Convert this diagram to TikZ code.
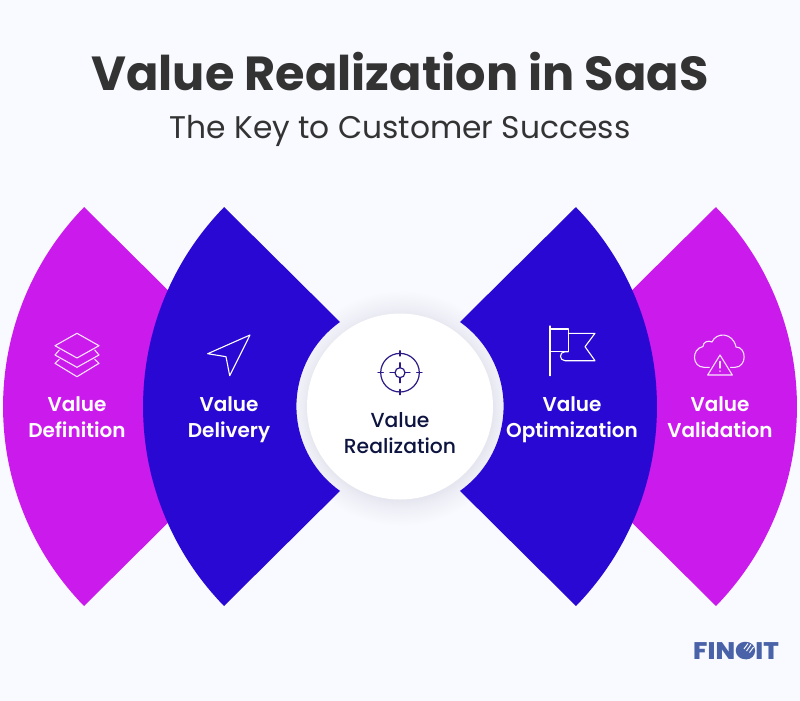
\documentclass[tikz,border=0pt]{standalone}
\usepackage{fontspec}
\setmainfont{Poppins}
\newfontfamily\semib{Poppins SemiBold}
\newfontfamily\medi{Poppins Medium}
\newfontfamily\xbold{Poppins ExtraBold}
\definecolor{bgc}{HTML}{F9FAFF}
\definecolor{pinkc}{HTML}{CB1AEC}
\definecolor{bluec}{HTML}{2A08D3}
\definecolor{darkt}{HTML}{333333}
\definecolor{navyt}{HTML}{0D1440}
\definecolor{iconn}{HTML}{2B1A85}
\definecolor{logoc}{HTML}{4A62A8}
\definecolor{haloa}{HTML}{E5E6EF}
\definecolor{halob}{HTML}{EEEFF6}
\pgfdeclareradialshading{softhalo}{\pgfpoint{0bp}{0bp}}{%
  color(0bp)=(haloa);
  color(19.6bp)=(haloa);
  color(21.2bp)=(halob);
  color(25bp)=(bgc);
  color(50bp)=(bgc)}
\tikzset{
  petalpink/.style={fill=pinkc,draw=none},
  petalblue/.style={fill=bluec,draw=none},
  lab/.style={align=center,font=\semib\fontsize{20}{26}\selectfont,text=white,inner sep=0pt},
  icon/.style={draw=white!88!pinkc,line width=1.1pt,line join=round,line cap=round},
  iconb/.style={draw=white,line width=1.1pt,line join=round,line cap=round},
  icont/.style={draw=iconn,line width=1.2pt,line cap=round}
}
\begin{document}
\begin{tikzpicture}[x=1pt,y=-1pt]
\useasboundingbox (0,0) rectangle (800,701);
\fill[bgc] (0,0) rectangle (800,701);
\node[inner sep=0pt,text=darkt,font=\bfseries\fontsize{47.8}{58}\selectfont] (title) at (400,71.5) {Value Realization in SaaS};
\node[inner sep=0pt,text=darkt,font=\fontsize{31.3}{38}\selectfont] (sub) at (400,130.5) {The Key to Customer Success};
% soft shadow
\shade[shading=softhalo] (400.5,408) circle[radius=118];
% petals
\fill[petalpink] (84,207) -- (200,322) -- (200,491) -- (84,606) arc[start angle=135.8,end angle=224.2,radius=286] -- cycle;
\fill[petalpink] (716,207) -- (600,322) -- (600,491) -- (716,606) arc[start angle=44.2,end angle=-44.2,radius=286] -- cycle;
\fill[petalblue] (224,207) -- (340,322) arc[start angle=234.6,end angle=125.4,radius=103.6] -- (224,606) arc[start angle=135.8,end angle=224.2,radius=286] -- cycle;
\fill[petalblue] (576,207) -- (460,322) arc[start angle=-54.6,end angle=54.6,radius=103.6] -- (576,606) arc[start angle=44.2,end angle=-44.2,radius=286] -- cycle;
% centre
\fill[white] (400,406.5) circle[radius=93];
% labels
\node[lab] (l1) at (77,419.5) {Value\\Definition\vphantom{y}};
\node[lab] (l2) at (229,419.5) {Value\\Delivery};
\node[lab,text=navyt,font=\medi\fontsize{20.3}{26}\selectfont] (l3) at (400,435.5) {Value\\Realization\vphantom{y}};
\node[lab] (l4) at (572,419.5) {Value\\Optimization};
\node[lab] (l5) at (720,419.5) {Value\\Validation\vphantom{y}};
% layers icon
\draw[icon] (77,333.3) -- (99,345.7) -- (77,358) -- (55,345.7) -- cycle;
\draw[icon] (94.7,350) -- (99,355) -- (77,367.3) -- (55,355) -- (59.3,350);
\draw[icon] (94.7,359.3) -- (99,363.3) -- (77,376.7) -- (55,363.3) -- (59.3,359.3);
% arrow icon
\draw[iconb] (250,335) -- (207.7,353.7) -- (226,356.7) -- (229.7,375.7) -- cycle;
% target icon
\draw[icont] (400,372.7) circle[radius=19.3] (400,372.7) circle[radius=5];
\draw[icont] (400,350.7) -- (400,356) (400,389.4) -- (400,394.7) (378,372.7) -- (383.3,372.7) (416.7,372.7) -- (422,372.7);
\draw[icont] (400,362.7) -- (400,367.7) (400,377.7) -- (400,382.7) (390,372.7) -- (395,372.7) (405,372.7) -- (410,372.7);
% flag icon
\draw[iconb] (550,326) -- (550,375.7);
\draw[iconb] (550,329) -- (568.3,329) -- (568.3,351.7) -- (550,351.7);
\draw[iconb] (568.3,333.3) -- (595,333.3) -- (585,346.7) -- (595,360.7) -- (565,360.7) .. controls (559,360.7) and (559,351.7) .. (565,351.7) -- (568.3,351.7);
% cloud icon
\draw[icon] (709.3,367.3) -- (704,367.3) .. controls (692,367.3) and (691,349) .. (703,346.5) .. controls (703,342) and (708,340) .. (712,342) .. controls (716,332) and (733,332) .. (736,347) .. controls (747,347) and (747,367.3) .. (735,367.3) -- (730.5,367.3);
\draw[icon] (720,355) -- (732.3,375) -- (707.7,375) -- cycle;
\draw[icon] (720,361.5) -- (720,368) (720,371) -- (720,371.2);
% logo
\node[inner sep=0pt,text=logoc,font=\xbold\fontsize{24}{26}\selectfont,xscale=1.07] (logo) at (736,650.5) {FINOIT};
\fill[logoc] (746.5,650.7) circle[radius=8.6];
\draw[bgc,line width=1pt] (748,643.5) -- (744,649) (751,644.5) -- (746.5,651) (753.5,647) -- (749.5,652.5);
\end{tikzpicture}
\end{document}
